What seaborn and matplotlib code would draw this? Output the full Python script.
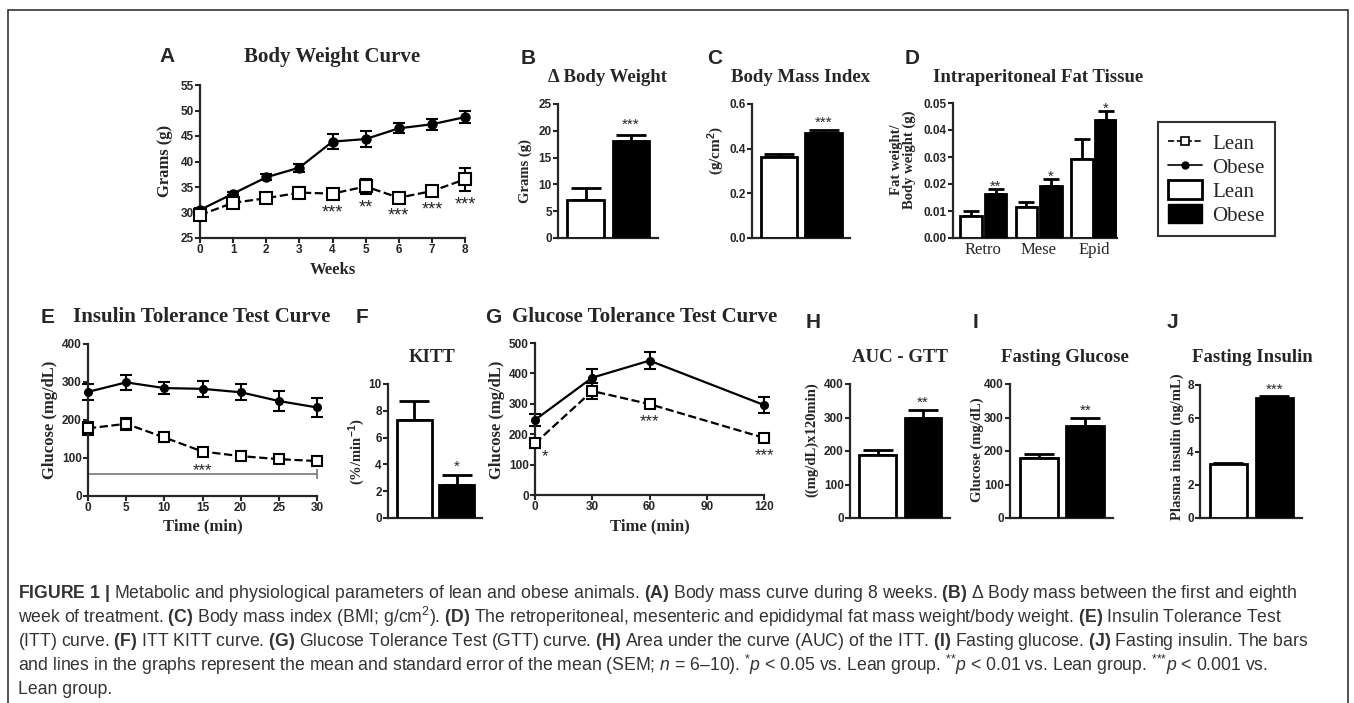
import matplotlib
matplotlib.use("Agg")
import matplotlib.pyplot as plt
import matplotlib.transforms as mtransforms
import seaborn as sns
import pandas as pd
from matplotlib.lines import Line2D
from matplotlib.patches import Patch, Rectangle

# ---- values ----
groups = ["Lean", "Obese"]

# A - body weight curve
weeks = [0, 1, 2, 3, 4, 5, 6, 7, 8]
bw_lean = [29.5, 31.9, 32.8, 33.9, 33.7, 35.1, 32.9, 34.2, 36.5]
bw_lean_sem = [0.5, 0.4, 0.5, 1.1, 0.8, 1.4, 0.4, 0.8, 2.2]
bw_obese = [30.5, 33.7, 36.9, 38.8, 43.9, 44.4, 46.5, 47.3, 48.7]
bw_obese_sem = [0.3, 0.3, 0.6, 0.8, 1.4, 1.5, 1.0, 1.1, 1.2]
bw_stars = ["", "", "", "", "***", "**", "***", "***", "***"]
bw_star_y = [0, 0, 0, 0, 30.7, 31.7, 30.0, 31.3, 32.3]

# B - delta body weight
delta_bw = [7.1, 18.1]
delta_bw_sem = [2.3, 1.1]

# C - BMI
bmi = [0.362, 0.472]
bmi_sem = [0.013, 0.011]

# D - fat tissue
fat_sites = ["Retro", "Mese", "Epid"]
fat_lean = [0.0081, 0.0116, 0.0293]
fat_lean_sem = [0.0019, 0.0016, 0.0072]
fat_obese = [0.0163, 0.0194, 0.0437]
fat_obese_sem = [0.0018, 0.0024, 0.0033]
fat_stars = ["**", "*", "*"]

# E - insulin tolerance test
itt_time = [0, 5, 10, 15, 20, 25, 30]
itt_lean = [178, 190, 154, 117, 105, 97, 92]
itt_lean_sem = [18, 16, 12, 10, 6, 5, 5]
itt_obese = [274, 299, 284, 282, 273, 250, 233]
itt_obese_sem = [22, 20, 15, 21, 21, 26, 26]

# F - KITT
kitt = [7.3, 2.45]
kitt_sem = [1.45, 0.75]

# G - glucose tolerance test
gtt_time = [0, 30, 60, 120]
gtt_lean = [170, 342, 299, 188]
gtt_lean_sem = [15, 27, 12, 14]
gtt_obese = [247, 386, 442, 296]
gtt_obese_sem = [20, 30, 27, 27]
gtt_stars = ["*", "", "***", "***"]
gtt_star_x = [5, 30, 60, 120]
gtt_star_y = [138, 0, 252, 142]

# H, I, J
auc_gtt = [188, 299]
auc_gtt_sem = [15, 23]
fasting_glucose = [178, 275]
fasting_glucose_sem = [12, 23]
fasting_insulin = [3.23, 7.2]
fasting_insulin_sem = [0.1, 0.14]

caption_lines = [
    r"$\mathbf{FIGURE\ 1\ |}$ Metabolic and physiological parameters of lean and obese animals. $\mathbf{(A)}$ Body mass curve during 8 weeks. $\mathbf{(B)}$ Δ Body mass between the first and eighth",
    r"week of treatment. $\mathbf{(C)}$ Body mass index (BMI; g/cm$^{2}$). $\mathbf{(D)}$ The retroperitoneal, mesenteric and epididymal fat mass weight/body weight. $\mathbf{(E)}$ Insulin Tolerance Test",
    r"(ITT) curve. $\mathbf{(F)}$ ITT KITT curve. $\mathbf{(G)}$ Glucose Tolerance Test (GTT) curve. $\mathbf{(H)}$ Area under the curve (AUC) of the ITT. $\mathbf{(I)}$ Fasting glucose. $\mathbf{(J)}$ Fasting insulin. The bars",
    r"and lines in the graphs represent the mean and standard error of the mean (SEM; $\mathit{n}$ = 6–10). $^{{*}}\mathit{p}$ < 0.05 vs. Lean group. $^{{*}{*}}\mathit{p}$ < 0.01 vs. Lean group. $^{{*}{*}{*}}\mathit{p}$ < 0.001 vs.",
    r"Lean group.",
]

sns.set_style("ticks")
plt.rcParams["font.family"] = ["Liberation Sans", "DejaVu Sans"]
plt.rcParams["mathtext.fontset"] = "custom"
plt.rcParams["mathtext.rm"] = "Liberation Sans"
plt.rcParams["mathtext.it"] = "Liberation Sans:italic"
plt.rcParams["mathtext.bf"] = "Liberation Sans:bold"

W, H = 1354, 703
SERIF = "Liberation Serif"
fig = plt.figure(figsize=(W / 100, H / 100), dpi=100)


def add_ax(x0, x1, y0, y1):
    # pixel box -> figure fraction
    return fig.add_axes([x0 / W, 1 - y1 / H, (x1 - x0) / W, (y1 - y0) / H])


def ftext(x, y, s, **kw):
    kw.setdefault("ha", "center")
    kw.setdefault("va", "center")
    return fig.text(x / W, 1 - y / H, s, **kw)


def stars_at(ax, x, y, s, size):
    # asterisks sit high in the text box, nudge down so the glyph centre lands on y
    tr = mtransforms.offset_copy(ax.transData, fig=fig, x=0, y=-size * 0.22, units="points")
    ax.text(x, y, s, ha="center", va="center", fontsize=size, transform=tr)


def style(ax, xticks=True):
    sns.despine(ax=ax)
    for sp in ["left", "bottom"]:
        ax.spines[sp].set_linewidth(1.6)
    ax.tick_params(axis="both", width=1.5, length=3.5, labelsize=8.5, pad=1)
    if not xticks:
        ax.tick_params(axis="x", length=0, labelbottom=False)
    for lbl in ax.get_yticklabels() + ax.get_xticklabels():
        lbl.set_fontweight("bold")


def bar_panel(ax, values, sems, ylim, yticks, fmt, stars, star_y, star_size=11):
    sns.barplot(x=groups, y=values, hue=groups, palette=["white", "black"],
                saturation=1, edgecolor="black", linewidth=2, width=0.82,
                legend=False, ax=ax, zorder=3)
    xs = [p.get_x() + p.get_width() / 2 for p in ax.patches]
    ax.errorbar(xs, values, yerr=[[0] * len(sems), sems], fmt="none", ecolor="black",
                elinewidth=2, capsize=11, capthick=2, zorder=2)
    stars_at(ax, xs[1], star_y, stars, star_size)
    ax.set_xlim(-0.62, 1.6)
    ax.set_ylim(*ylim)
    ax.set_yticks(yticks)
    ax.set_yticklabels([fmt.format(t) for t in yticks])
    ax.set_xlabel("")
    ax.set_ylabel("")
    style(ax, xticks=False)


def curve(ax, x, lean, lean_sem, obese, obese_sem, sq=7, dot=5.5):
    ax.errorbar(x, obese, yerr=obese_sem, fmt="none", ecolor="black", elinewidth=1.5,
                capsize=4, capthick=1.5, zorder=2, clip_on=False)
    ax.errorbar(x, lean, yerr=lean_sem, fmt="none", ecolor="black", elinewidth=1.5,
                capsize=4, capthick=1.5, zorder=2, clip_on=False)
    sns.lineplot(x=x, y=obese, ax=ax, color="black", linewidth=1.6, marker="o",
                 markersize=dot, markeredgecolor="black", markeredgewidth=1,
                 zorder=4, clip_on=False)
    sns.lineplot(x=x, y=lean, ax=ax, color="black", linewidth=1.6, linestyle="--",
                 marker="s", markersize=sq, markerfacecolor="white",
                 markeredgecolor="black", markeredgewidth=1.5, zorder=5, clip_on=False)


title_kw = dict(family=SERIF, fontweight="bold")
letter_kw = dict(fontweight="bold", fontsize=15)
ylab_kw = dict(family=SERIF, fontweight="bold", rotation=90)

# ---------------- A ----------------
ax = add_ax(200, 465, 85, 238)
curve(ax, weeks, bw_lean, bw_lean_sem, bw_obese, bw_obese_sem, sq=8, dot=6.5)
for x, s, y in zip(weeks, bw_stars, bw_star_y):
    if s:
        stars_at(ax, x, y, s, 13)
ax.set_xlim(0, 8)
ax.set_ylim(25, 55)
ax.set_xticks(weeks)
ax.set_yticks(range(25, 56, 5))
style(ax)
ftext(167, 57, "A", **letter_kw)
ftext(332, 57, "Body Weight Curve", fontsize=15, **title_kw)
ftext(165, 161, "Grams (g)", fontsize=12, **ylab_kw)
ftext(333, 270, "Weeks", fontsize=12, **title_kw)

# ---------------- B ----------------
ax = add_ax(558, 658, 104, 238)
bar_panel(ax, delta_bw, delta_bw_sem, (0, 25), [0, 5, 10, 15, 20, 25], "{:d}", "***", 21.7)
ftext(528, 58, "B", **letter_kw)
ftext(608, 77, "Δ Body Weight", fontsize=13.5, **title_kw)
ftext(525, 171, "Grams (g)", fontsize=10.5, **ylab_kw)

# ---------------- C ----------------
ax = add_ax(752, 850, 104, 238)
bar_panel(ax, bmi, bmi_sem, (0, 0.6), [0, 0.2, 0.4, 0.6], "{:.1f}", "***", 0.529)
ftext(715, 58, "C", **letter_kw)
ftext(801, 77, "Body Mass Index", fontsize=13.5, **title_kw)
ftext(716, 150, "(g/cm$^{\\mathbf{2}}$)", fontsize=11, **ylab_kw)

# ---------------- D ----------------
ax = add_ax(953, 1117, 103, 238)
fat_df = pd.DataFrame({
    "site": fat_sites * 2,
    "group": ["Lean"] * 3 + ["Obese"] * 3,
    "value": fat_lean + fat_obese,
})
sns.barplot(data=fat_df, x="site", y="value", hue="group",
            palette={"Lean": "white", "Obese": "black"}, saturation=1,
            edgecolor="black", linewidth=2, width=0.88, gap=0.1, legend=False,
            ax=ax, zorder=3)
for cont, vals, sems in zip(ax.containers, [fat_lean, fat_obese], [fat_lean_sem, fat_obese_sem]):
    xs = [p.get_x() + p.get_width() / 2 for p in cont]
    ax.errorbar(xs, vals, yerr=[[0] * 3, sems], fmt="none", ecolor="black",
                elinewidth=2, capsize=6, capthick=2, zorder=2)
    if vals is fat_obese:
        for x, v, e, s in zip(xs, vals, sems, fat_stars):
            stars_at(ax, x, v + e + 0.0019, s, 10.5)
ax.set_xlim(-0.55, 2.42)
ax.set_ylim(0, 0.05)
ax.set_yticks([0, 0.01, 0.02, 0.03, 0.04, 0.05])
ax.set_yticklabels(["0.00", "0.01", "0.02", "0.03", "0.04", "0.05"])
ax.set_xlabel("")
ax.set_ylabel("")
style(ax)
ax.tick_params(axis="x", length=0, pad=3)
for lbl in ax.get_xticklabels():
    lbl.set_fontfamily(SERIF)
    lbl.set_fontweight("normal")
    lbl.set_fontsize(12)
ftext(912, 58, "D", **letter_kw)
ftext(1038, 78, "Intraperitoneal Fat Tissue", fontsize=13.5, **title_kw)
ftext(903, 160, "Fat weight/\nBody weight (g)", fontsize=10.5, linespacing=1.0, **ylab_kw)

# legend
handles = [
    Line2D([], [], color="black", ls="--", lw=1.2, marker="s", ms=5.5,
           mfc="white", mec="black", mew=1.2),
    Line2D([], [], color="black", ls="-", lw=1.2, marker="o", ms=5),
    Patch(facecolor="white", edgecolor="black", linewidth=2),
    Patch(facecolor="black", edgecolor="black"),
]
leg = fig.legend(handles, ["Lean", "Obese", "Lean", "Obese"], loc="upper left",
                 bbox_to_anchor=(1158 / W, 1 - 122 / H), frameon=True, fancybox=False,
                 edgecolor="black", prop={"family": SERIF, "size": 15},
                 handlelength=1.6, handleheight=1.0, labelspacing=0.12,
                 borderpad=0.5, handletextpad=0.5, borderaxespad=0)
leg.get_frame().set_linewidth(1.5)

# ---------------- E ----------------
ax = add_ax(88, 317, 344, 496)
curve(ax, itt_time, itt_lean, itt_lean_sem, itt_obese, itt_obese_sem)
ax.plot([0, 30], [57, 57], color="#777777", lw=1.2, marker="|", ms=7, mew=1.2, zorder=1)
stars_at(ax, 15, 76, "***", 12)
ax.set_xlim(0, 30)
ax.set_ylim(0, 400)
ax.set_xticks(itt_time)
ax.set_yticks([0, 100, 200, 300, 400])
style(ax)
ftext(48, 317, "E", **letter_kw)
ftext(202, 317, "Insulin Tolerance Test Curve", fontsize=15, **title_kw)
ftext(50, 420, "Glucose (mg/dL)", fontsize=12, **ylab_kw)
ftext(203, 526, "Time (min)", fontsize=12, **title_kw)

# ---------------- F ----------------
ax = add_ax(388, 482, 384, 518)
bar_panel(ax, kitt, kitt_sem, (0, 10), [0, 2, 4, 6, 8, 10], "{:d}", "*", 4.1)
ftext(362, 317, "F", **letter_kw)
ftext(432, 358, "KITT", fontsize=13.5, **title_kw)
ftext(357, 452, "(%/min$^{\\mathbf{-1}}$)", fontsize=10.5, **ylab_kw)

# ---------------- G ----------------
ax = add_ax(535, 764, 343, 495)
curve(ax, gtt_time, gtt_lean, gtt_lean_sem, gtt_obese, gtt_obese_sem)
for x, s, y in zip(gtt_star_x, gtt_stars, gtt_star_y):
    if s:
        stars_at(ax, x, y, s, 12)
ax.set_xlim(0, 120)
ax.set_ylim(0, 500)
ax.set_xticks([0, 30, 60, 90, 120])
ax.set_yticks([0, 100, 200, 300, 400, 500])
style(ax)
ftext(493, 317, "G", **letter_kw)
ftext(645, 317, "Glucose Tolerance Test Curve", fontsize=15, **title_kw)
ftext(497, 420, "Glucose (mg/dL)", fontsize=12, **ylab_kw)
ftext(650, 526, "Time (min)", fontsize=12, **title_kw)

# ---------------- H ----------------
ax = add_ax(850, 950, 384, 518)
bar_panel(ax, auc_gtt, auc_gtt_sem, (0, 400), [0, 100, 200, 300, 400], "{:d}", "**", 354)
ftext(813, 322, "H", **letter_kw)
ftext(900, 358, "AUC - GTT", fontsize=13.5, **title_kw)
ftext(812, 440, "((mg/dL)x120min)", fontsize=10.5, **ylab_kw)

# ---------------- I ----------------
ax = add_ax(1010, 1113, 384, 518)
bar_panel(ax, fasting_glucose, fasting_glucose_sem, (0, 400), [0, 100, 200, 300, 400], "{:d}", "**", 330)
ftext(975, 322, "I", **letter_kw)
ftext(1065, 358, "Fasting Glucose", fontsize=13.5, **title_kw)
ftext(977, 450, "Glucose (mg/dL)", fontsize=10.5, **ylab_kw)

# ---------------- J ----------------
ax = add_ax(1200, 1302, 385, 518)
bar_panel(ax, fasting_insulin, fasting_insulin_sem, (0, 8), [0, 2, 4, 6, 8], "{:d}", "***", 7.9)
ftext(1172, 322, "J", **letter_kw)
ftext(1252, 358, "Fasting Insulin", fontsize=13.5, **title_kw)
ftext(1177, 447, "Plasma insulin (ng/mL)", fontsize=10.5, **ylab_kw)

# caption and frame
for i, line in enumerate(caption_lines):
    ftext(18, 593 + i * 24, line, ha="left", fontsize=12.7, color="#333333")

fig.add_artist(Rectangle((8 / W, -0.1), (1348 - 8) / W, 1.1 - 10 / H,
                         transform=fig.transFigure, fill=False,
                         edgecolor="#333333", linewidth=1.2))

fig.savefig("out.png", dpi=100)
